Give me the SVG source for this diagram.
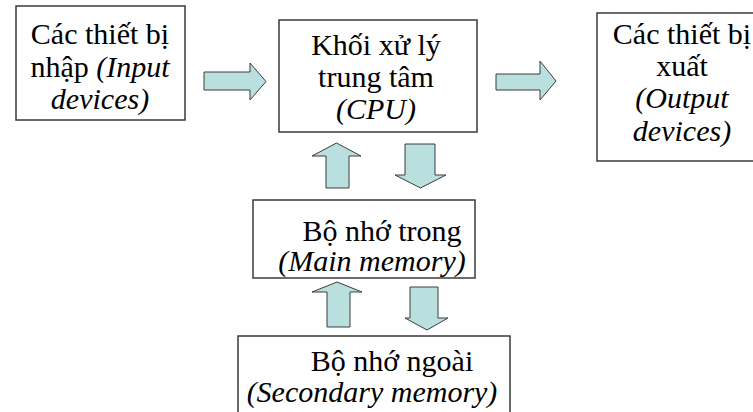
<svg xmlns="http://www.w3.org/2000/svg" width="753" height="412" viewBox="0 0 753 412">
<style>
.box{fill:#ffffff;stroke:#3a3a3a;stroke-width:1.5}
text{font-family:'Liberation Serif','Times New Roman',serif;font-size:30px;fill:#000;text-anchor:middle}
.i{font-family:'Liberation Serif','Times New Roman',serif;font-style:italic}
.arr{fill:#b9dfdf;stroke:#3c3c3c;stroke-width:1}
</style>
<rect width="753" height="412" fill="#ffffff"/>
<g id="input">
<rect class="box" x="16" y="6" width="169" height="114"/>
<text x="100" y="44">Các thiết bị</text>
<text x="100" y="77">nhập <tspan class="i">(Input</tspan></text>
<text class="i" x="100" y="109">devices)</text>
</g>
<g id="cpu">
<rect class="box" x="279" y="20" width="198" height="112"/>
<text x="376" y="55">Khối xử lý</text>
<text x="376" y="87">trung tâm</text>
<text class="i" x="376" y="119">(CPU)</text>
</g>
<g id="output">
<rect class="box" x="597" y="13" width="170" height="148"/>
<text x="682" y="44">Các thiết bị</text>
<text x="682" y="76">xuất</text>
<text class="i" x="682" y="108">(Output</text>
<text class="i" x="682" y="141">devices)</text>
</g>
<g id="main-memory">
<rect class="box" x="253" y="200" width="222" height="78"/>
<text x="382" y="241">Bộ nhớ trong</text>
<text class="i" x="372" y="271">(Main memory)</text>
</g>
<g id="secondary-memory">
<rect class="box" x="238" y="336" width="272" height="90"/>
<text x="392" y="371">Bộ nhớ ngoài</text>
<text class="i" x="372" y="402">(Secondary memory)</text>
</g>
<g id="connectors">
<polygon class="arr" points="204,72 250,72 250,63 266,81.5 250,100 250,90 204,90"/>
<polygon class="arr" points="496,74 540,74 540,61 556,81 540,100 540,90 496,90"/>
<polygon class="arr" points="326,188 326,156 312,156 336.5,143 361,156 349,156 349,188"/>
<polygon class="arr" points="405,144 435,144 435,175 446,175 420.5,188 395,175 405,175"/>
<polygon class="arr" points="327,327 327,292 312,292 337,282 362,292 350,292 350,327"/>
<polygon class="arr" points="410,287 438,287 438,318 448,318 427,330 405,318 410,318"/>
</g>
</svg>
